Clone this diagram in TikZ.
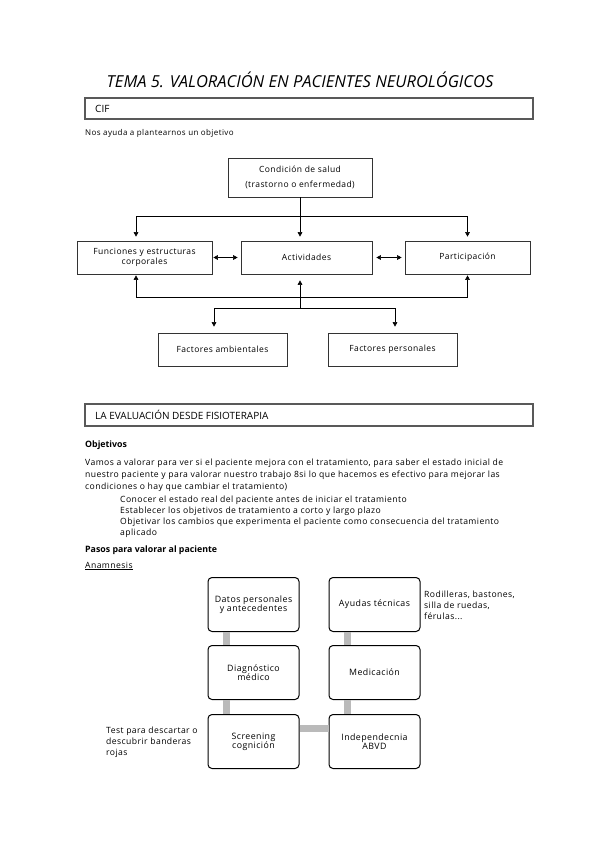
\documentclass[tikz,border=0pt]{standalone}
\usepackage{fontspec}
\setmainfont{Open Sans}
\newfontfamily\spaced{Open Sans}[LetterSpace=5]
\usetikzlibrary{positioning, arrows.meta}

\begin{document}
\begin{tikzpicture}[x=1pt, y=-1pt,
        cifbox/.style={
            rectangle,
            draw=black!80,
            line width=0.6pt,
            font=\spaced\fontsize{8.5}{10}\selectfont,
            align=center,
            inner sep=2pt
        },
        stepcard/.style={
            rectangle,
            rounded corners=4pt,
            draw,
            line width=1pt,
            fill=white,
            minimum width=91pt,
            minimum height=54pt,
            font=\spaced\fontsize{8.8}{9}\selectfont,
            align=center
        },
        section/.style={
            draw=black!65,
            line width=1.3pt
        },
        link/.style={
            -{Triangle[length=4.5pt,width=4.5pt]},
            line width=0.5pt
        },
        twoway/.style={
            {Triangle[length=4.5pt,width=4.5pt]}-{Triangle[length=4.5pt,width=4.5pt]},
            line width=0.5pt
        },
        bar/.style={
            line width=7pt,
            black!27
        },
        note/.style={
            anchor=west,
            align=left,
            inner sep=0pt,
            font=\spaced\fontsize{8.6}{11}\selectfont
        }
    ]
    \useasboundingbox (0,0) rectangle (599,848);

    % Title and CIF header
    \node (title) at (300,80) {\fontsize{16.5}{18}\selectfont\itshape TEMA 5. VALORACIÓN EN PACIENTES NEUROLÓGICOS};
    \draw[section] (85,98) rectangle (533,119);
    \node[note, font=\fontsize{10}{11}\selectfont] (cif) at (95,108.5) {CIF};
    \node[note, font=\spaced\fontsize{8}{9}\selectfont] (ayuda) at (85,133) {Nos ayuda a plantearnos un objetivo};

    % CIF model
    \node[cifbox, minimum width=144pt, minimum height=39pt] (salud) at (300,177.5) {Condición de salud\\[5pt](trastorno o enfermedad)};
    \node[cifbox, minimum width=135pt, minimum height=33pt] (funciones) at (144.5,257.5) {Funciones y estructuras\\corporales};
    \node[cifbox, minimum width=131pt, minimum height=33pt] (actividades) at (306.5,257.5) {Actividades};
    \node[cifbox, minimum width=125pt, minimum height=33pt] (participacion) at (467.5,257.5) {Participación};
    \node[cifbox, minimum width=129pt, minimum height=33pt] (ambientales) at (222.5,349.5) {Factores ambientales};
    \node[cifbox, minimum width=129pt, minimum height=33pt] (personales) at (392.5,349.5) {Factores personales};

    \coordinate (split) at (300,216);
    \coordinate (base) at (300,297);
    \coordinate (fork) at (300,308);

    \draw[link, shorten >=4pt] (salud.south -| split) -- (actividades.north -| split);
    \draw[link, shorten >=4pt] (split) -| ([xshift=-8.5pt]funciones.north);
    \draw[link, shorten >=4pt] (split) -| (participacion.north);
    \draw[twoway, shorten <=1pt, shorten >=3pt] (funciones.east) -- (actividades.west);
    \draw[twoway, shorten <=4pt, shorten >=3pt] (actividades.east) -- (participacion.west);
    \draw[link, shorten >=1pt] (base) -| ([xshift=-8.5pt]funciones.south);
    \draw[link, shorten >=1pt] (base) -| (participacion.south);
    \draw[link, shorten >=6pt] (fork) -- (actividades.south -| fork);
    \draw[link, shorten >=6pt] (fork) -| ([xshift=-8.5pt]ambientales.north);
    \draw[link, shorten >=6pt] (fork) -| ([xshift=2.5pt]personales.north);

    % Evaluation section
    \draw[section] (85,404) rectangle (533,426);
    \node[note, font=\fontsize{10}{11}\selectfont] (evaluacion) at (95,415) {LA EVALUACIÓN DESDE FISIOTERAPIA};
    \node[note, font=\fontsize{8.8}{9}\selectfont\bfseries] (objetivos) at (85,445) {Objetivos};
    \node[note, font=\spaced\fontsize{8.6}{12}\selectfont] (intro) at (85,475) {Vamos a valorar para ver si el paciente mejora con el tratamiento, para saber el estado inicial de\\nuestro paciente y para valorar nuestro trabajo 8si lo que hacemos es efectivo para mejorar las\\condiciones o hay que cambiar el tratamiento)};
    \node[note] (lista) at (120,516.5) {Conocer el estado real del paciente antes de iniciar el tratamiento\\Establecer los objetivos de tratamiento a corto y largo plazo\\Objetivar los cambios que experimenta el paciente como consecuencia del tratamiento\\aplicado};
    \node[note, font=\fontsize{8.8}{9}\selectfont\bfseries] (pasos) at (85,550) {Pasos para valorar al paciente};
    \node[note] (anamnesis) at (85,566) {\underline{Anamnesis}};

    % Steps
    \node[stepcard] (datos) at (253.5,604.5) {Datos personales\\y antecedentes};
    \node[stepcard, below=13pt of datos] (diagnostico) {Diagnóstico\\médico};
    \node[stepcard, below=14pt of diagnostico] (screening) {Screening\\cognición};
    \node[stepcard, right=29pt of datos] (ayudas) {Ayudas técnicas};
    \node[stepcard, below=13pt of ayudas] (medicacion) {Medicación};
    \node[stepcard, below=14pt of medicacion] (independencia) {Independecnia\\ABVD};

    \draw[bar] ([xshift=-27pt]datos.south) -- ([xshift=-27pt]diagnostico.north);
    \draw[bar] ([xshift=-27pt]diagnostico.south) -- ([xshift=-27pt]screening.north);
    \draw[bar] ([yshift=13pt]screening.east) -- ([yshift=13pt]independencia.west);
    \draw[bar] ([xshift=-27pt]ayudas.south) -- ([xshift=-27pt]medicacion.north);
    \draw[bar] ([xshift=-27pt]medicacion.south) -- ([xshift=-27pt]independencia.north);

    \node[note] (ayudasnota) at (424,605) {Rodilleras, bastones,\\silla de ruedas,\\férulas...};
    \node[note] (testnota) at (106,742) {Test para descartar o\\descubrir banderas\\rojas};

\end{tikzpicture}
\end{document}
